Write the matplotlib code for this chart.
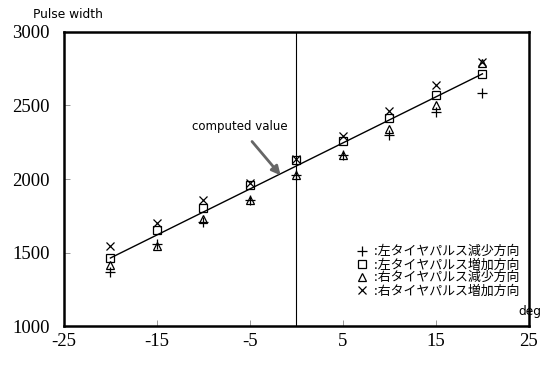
import matplotlib.pyplot as plt

plt.rcParams['font.family'] = ['Noto Sans CJK JP', 'DejaVu Sans']
plt.rcParams['axes.unicode_minus'] = False

deg = [-20, -15, -10, -5, 0, 5, 10, 15, 20]
left_dec = [1370, 1555, 1710, 1855, 2025, 2160, 2300, 2456, 2585]
left_inc = [1465, 1655, 1805, 1960, 2130, 2255, 2412, 2571, 2715]
right_dec = [1415, 1545, 1728, 1860, 2030, 2165, 2340, 2500, 2790]
right_inc = [1545, 1700, 1860, 1975, 2135, 2295, 2465, 2640, 2796]
computed_x = [-20, 20]
computed_y = [1463, 2715]

labels = [':左タイヤパルス減少方向', ':左タイヤパルス増加方向',
          ':右タイヤパルス減少方向', ':右タイヤパルス増加方向']

fig = plt.figure(figsize=(5.51, 3.71), dpi=100)
ax = fig.add_axes([0.116, 0.121, 0.844, 0.793])

ax.plot(computed_x, computed_y, color='black', lw=1)
ax.axvline(0, color='black', lw=0.8)

ms = 5.5
ax.plot(deg, left_dec, ls='none', marker='+', ms=ms + 1.5, mew=0.9, color='black', label=labels[0])
ax.plot(deg, left_inc, ls='none', marker='s', ms=ms, mew=0.9, mfc='none', color='black', label=labels[1])
ax.plot(deg, right_dec, ls='none', marker='^', ms=ms + 0.5, mew=0.9, mfc='none', color='black', label=labels[2])
ax.plot(deg, right_inc, ls='none', marker='x', ms=ms, mew=0.9, color='black', label=labels[3])

ax.annotate('computed value', xy=(-1.7, 2025), xytext=(-6.1, 2354),
            ha='center', va='center', fontsize=8.5, family='DejaVu Sans',
            arrowprops=dict(arrowstyle='-|>', color='#666666', lw=2,
                            mutation_scale=13, shrinkA=5, shrinkB=0))

ax.set_xlim(-25, 25)
ax.set_ylim(1000, 3000)
ax.set_xticks([-25, -15, -5, 5, 15, 25])
ax.set_yticks([1000, 1500, 2000, 2500, 3000])
ax.tick_params(direction='in', length=4, width=0.6, color='#888888',
               labelsize=13.5, top=False, right=False)
ax.tick_params(axis='y', pad=10)
ax.tick_params(axis='x', pad=5)
for t in ax.get_xticklabels() + ax.get_yticklabels():
    t.set_family('Liberation Serif')
for s in ax.spines.values():
    s.set_linewidth(1.8)

fig.text(0.06, 0.962, 'Pulse width', fontsize=8.8, family='DejaVu Sans', va='center')
fig.text(0.962, 0.16, 'deg', fontsize=8.8, family='DejaVu Sans', ha='center', va='center')

ax.legend(loc='lower right', frameon=False, fontsize=9.3, handlelength=1.0,
          handletextpad=0.4, labelspacing=0.0, borderaxespad=0.0,
          bbox_to_anchor=(0.99, 0.08))

fig.savefig('out.png', dpi=100)
